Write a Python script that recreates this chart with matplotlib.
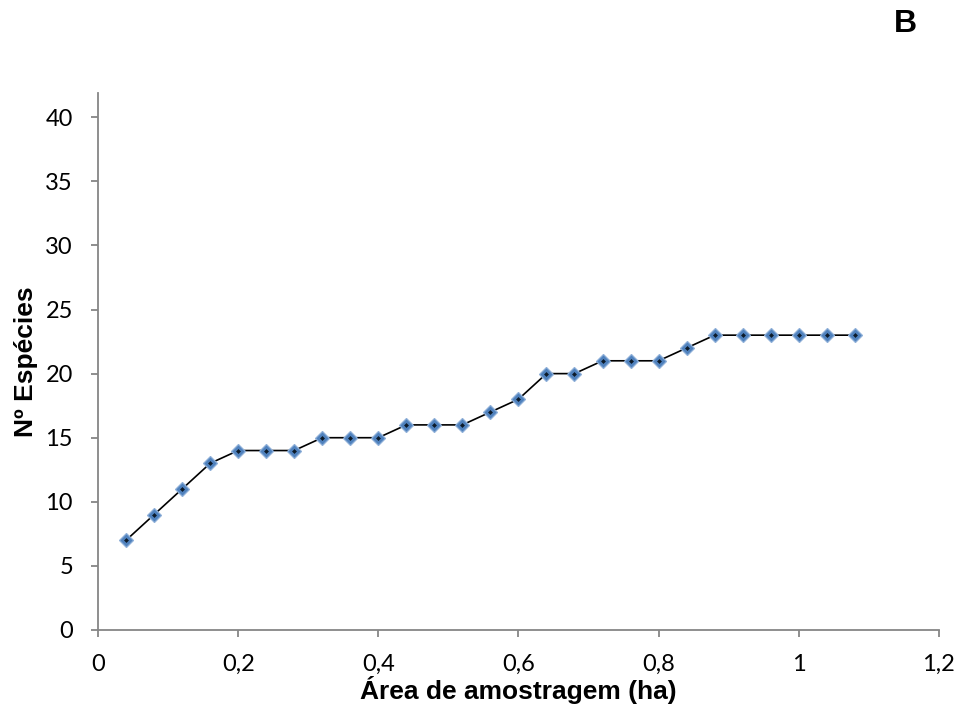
import matplotlib
matplotlib.use("Agg")
import matplotlib.pyplot as plt
from matplotlib.ticker import MultipleLocator, FuncFormatter

# Species accumulation data
area_ha = [0.04, 0.08, 0.12, 0.16, 0.20, 0.24, 0.28, 0.32, 0.36, 0.40,
           0.44, 0.48, 0.52, 0.56, 0.60, 0.64, 0.68, 0.72, 0.76, 0.80,
           0.84, 0.88, 0.92, 0.96, 1.00, 1.04, 1.08]
n_species = [7, 9, 11, 13, 14, 14, 14, 15, 15, 15,
             16, 16, 16, 17, 18, 20, 20, 21, 21, 21,
             22, 23, 23, 23, 23, 23, 23]

x_label = "Área de amostragem (ha)"
y_label = "Nº Espécies"
panel_tag = "B"

axis_grey = "#868686"

fig = plt.figure(figsize=(9.59, 7.2), dpi=100)
ax = fig.add_axes([0.1022, 0.125, 0.8768, 0.746])

ax.plot(area_ha, n_species, color="black", lw=1.2, zorder=2)
ax.plot(area_ha, n_species, ls="none", marker="D", ms=7,
        mfc="#4F81BD", mec="#8EAFD8", mew=0.9, zorder=3)
ax.plot(area_ha, n_species, ls="none", marker="D", ms=2.5,
        mfc="#0d1b2a", mec="none", zorder=4)

ax.set_xlim(0, 1.2)
ax.set_ylim(0, 41.9)
ax.xaxis.set_major_locator(MultipleLocator(0.2))
ax.set_yticks(list(range(0, 45, 5)))

def comma_fmt(v, pos):
    s = f"{v:.1f}".rstrip("0").rstrip(".")
    return s.replace(".", ",")

ax.xaxis.set_major_formatter(FuncFormatter(comma_fmt))

for side in ("top", "right"):
    ax.spines[side].set_visible(False)
for side in ("left", "bottom"):
    ax.spines[side].set_color(axis_grey)
    ax.spines[side].set_linewidth(1.3)

ax.tick_params(axis="both", direction="out", length=5, width=1.3,
               color=axis_grey, labelsize=17, labelcolor="black")
ax.tick_params(axis="y", pad=13)
ax.tick_params(axis="x", pad=12)
for lab in ax.get_xticklabels() + ax.get_yticklabels():
    lab.set_family("Lato")

ax.set_xlabel(x_label, fontsize=19, fontweight="bold",
              family="Liberation Sans", labelpad=1)
ax.set_ylabel(y_label, fontsize=19, fontweight="bold",
              family="Liberation Sans", labelpad=5)

fig.text(0.944, 0.966, panel_tag, fontsize=23, fontweight="bold",
         family="Liberation Sans", ha="center", va="center")

fig.savefig("out.png", dpi=100)
